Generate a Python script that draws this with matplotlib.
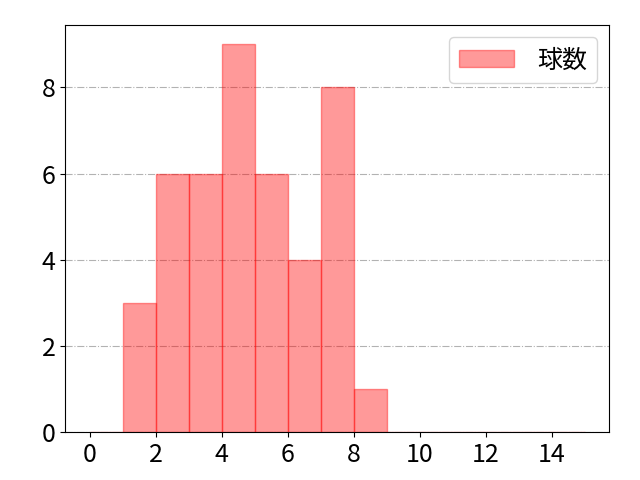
import matplotlib
matplotlib.use('Agg')
import matplotlib.pyplot as plt
import numpy as np

plt.rcParams['font.family'] = ['Noto Sans CJK JP', 'DejaVu Sans']
plt.rcParams['font.size'] = 18

# 球数の分布 (ビン幅 1)
bin_edges = list(range(0, 16))
bin_left = list(range(0, 15))
counts = [0, 3, 6, 6, 9, 6, 4, 8, 1, 0, 0, 0, 0, 0, 0]

fig, ax = plt.subplots(figsize=(6.4, 4.8), dpi=100)
ax.hist(bin_left, bins=bin_edges, weights=counts, color='red', alpha=0.4,
        edgecolor='red', label='球数')
ax.grid(axis='y', linestyle='-.', color='gray', alpha=0.6)
ax.set_axisbelow(True)
ax.legend(loc='upper right', handlelength=2.2, handletextpad=0.9)
ax.set_xticks(range(0, 16, 2))
fig.subplots_adjust(left=0.102, right=0.952, bottom=0.1, top=0.948)
plt.savefig('out.png')
